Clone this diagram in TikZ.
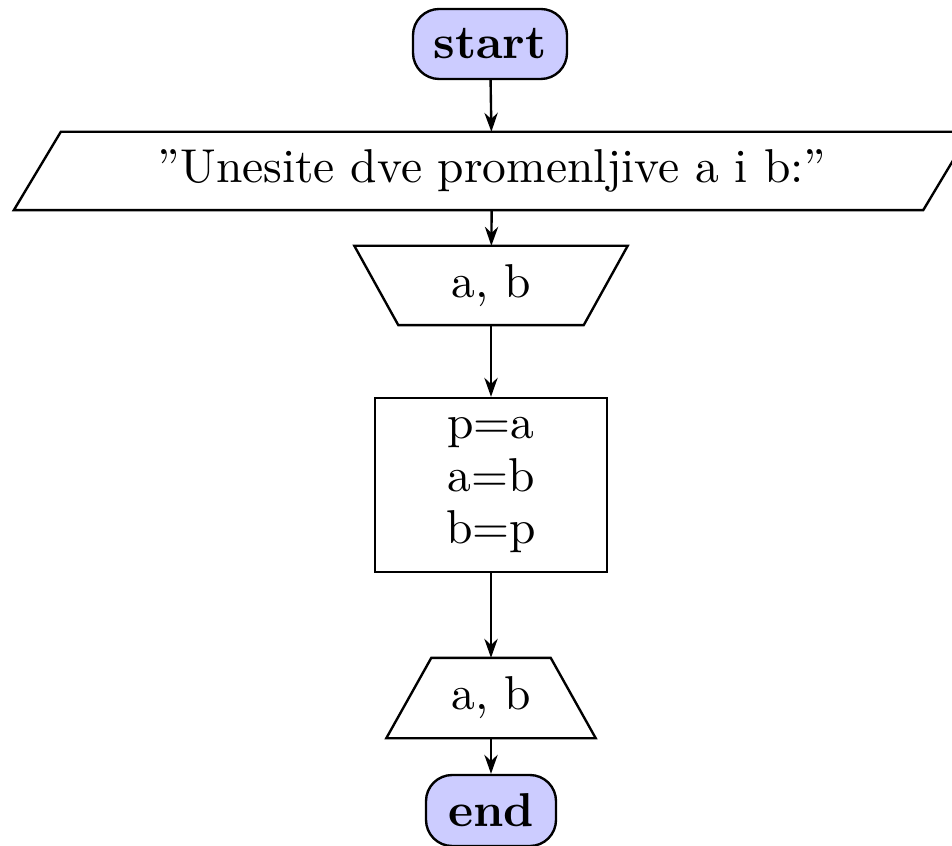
\documentclass[tikz,border=0pt]{standalone}
\usetikzlibrary{arrows.meta}
\newcommand{\pxu}{0.2105pt}
\begin{document}
\begin{tikzpicture}[x=0.2105pt,y=-0.2105pt,
  line width=0.5pt,
  box/.style={rectangle, inner sep=0pt, align=center},
  term/.style={box, draw, rounded corners=5.5pt, fill=blue!20, font=\bfseries},
  arr/.style={-{Stealth[length=4pt,width=2.8pt]}}]
\clip (0,0) rectangle (952,846);
\fill[white] (0,0) rectangle (952,846);
% nodes
\node[term, minimum width=154*\pxu, minimum height=70*\pxu] (start) at (490,44) {start};
\node[box, minimum width=954*\pxu, minimum height=76*\pxu] (msg) at (492,171) {''Unesite dve promenljive a i b:''};
\node[box, minimum width=271*\pxu, minimum height=77*\pxu] (in) at (491,285.5) {a, b};
\node[box, draw, minimum width=232*\pxu, minimum height=174*\pxu, font=\fontsize{10}{11}\selectfont] (swap) at (491,485) {p=a\\a=b\\b=p};
\node[box, minimum width=207*\pxu, minimum height=78*\pxu] (out) at (491,698) {a, b};
\node[term, minimum width=130*\pxu, minimum height=71*\pxu] (end) at (491,810.5) {end};
% outlines
\draw (msg.south west) -- ([xshift=47*\pxu]msg.north west) -- (msg.north east) -- ([xshift=-47*\pxu]msg.south east) -- cycle;
\draw (in.north west) -- (in.north east) -- ([xshift=-44*\pxu]in.south east) -- ([xshift=44*\pxu]in.south west) -- cycle;
\draw ([xshift=45*\pxu]out.north west) -- ([xshift=-45*\pxu]out.north east) -- (out.south east) -- (out.south west) -- cycle;
% connectors
\draw[arr] (start) -- (msg);
\draw[arr] (msg) -- (in);
\draw[arr] (in) -- (swap);
\draw[arr] (swap) -- (out);
\draw[arr] (out) -- (end);
\end{tikzpicture}
\end{document}
